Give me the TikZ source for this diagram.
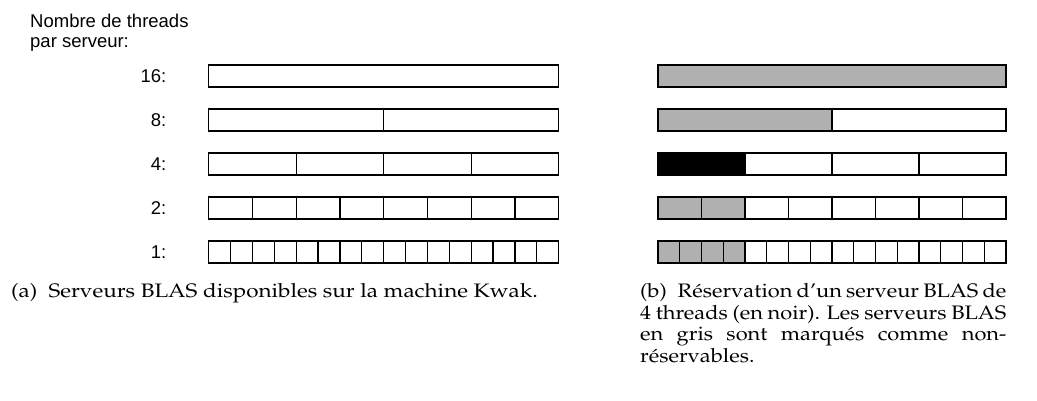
\documentclass[tikz,border=0pt]{standalone}
\usepackage[T1]{fontenc}
\usepackage{fontspec}
\usepackage{graphicx}
\newfontfamily\sanslab{Liberation Sans}
\newcommand\capfont{\fontencoding{T1}\fontfamily{ppl}\fontsize{19.5}{21.6}\selectfont}
\newcommand\ligne[1]{\makebox[327pt][s]{#1}}
\usepackage{xcolor}
\colorlet{gris}{black!31}

\begin{document}
\begin{tikzpicture}[x=1pt, y=-1pt, line join=miter,
  cellule/.style={draw, line width=1.2pt},
  libelle/.style={font=\sanslab\fontsize{18.5}{20}\selectfont, anchor=east, inner sep=0pt},
  legende/.style={font=\capfont, inner sep=0pt, anchor=base west}]

\useasboundingbox (0,0) rectangle (1037,401);

% Titre
\node[libelle, anchor=north west, align=left] (titre) at (30,13.5) {Nombre de threads\\par serveur:};

% Barres
\foreach \n/\k/\g/\c [count=\i] in {16/1/1/gris, 8/2/1/gris, 4/4/1/black, 2/8/2/gris, 1/16/4/gris}{
  \pgfmathsetmacro\yc{76+44*(\i-1)}
  \node[libelle] (l\n) at (166.5,\yc) {\n:};
  % gauche
  \foreach \j in {1,...,\k}
    \draw[cellule] ({208.7+(\j-1)*350/\k},{\yc-11}) rectangle ++({350/\k},22);
  % droite
  \fill[\c] (658,{\yc-11}) rectangle ++({348*\g/\k},22);
  \foreach \j in {1,...,\k}
    \draw[cellule] ({658+(\j-1)*348/\k},{\yc-11}) rectangle ++({348/\k},22);
}

% Legendes
\node[legende] (capa) at (11,297.5)
  {\scalebox{1.15}[1]{(a)\hspace{.5em}Serveurs BLAS disponibles sur la machine Kwak.}};
\node[legende] (capb) at (640,297.5)
  {\scalebox{1.12}[1]{\parbox[t]{327pt}{\ligne{(b)\hspace{.5em}Réservation d'un serveur BLAS de}\\
   \ligne{4 threads (en noir). Les serveurs BLAS}\\
   \ligne{en gris sont marqués comme non-}\\
   réservables.}}};

\end{tikzpicture}
\end{document}
